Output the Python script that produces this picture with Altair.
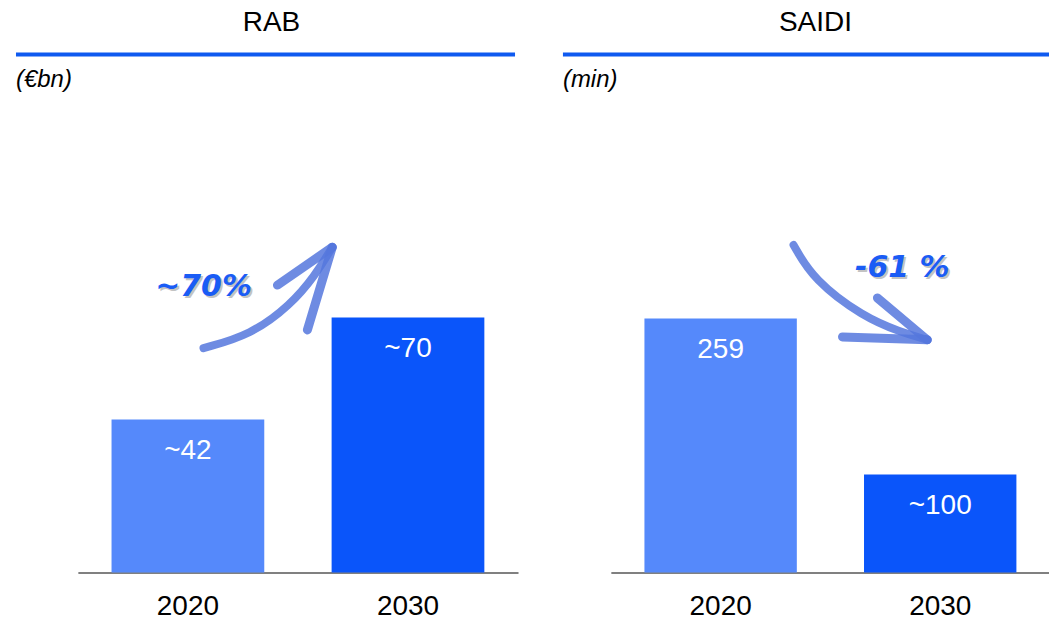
import altair as alt
import pandas as pd

# ---- data ----
years = ["2020", "2030"]
rab_values = [42, 70]
rab_labels = ["~42", "~70"]
saidi_values = [259, 100]
saidi_labels = ["259", "~100"]
bar_colors = ["#5589FB", "#0A55FA"]

# annotation arrows (x in category-slot units 0..2, y in value units)
rab_arrow_u = [0.571, 0.785, 0.966, 1.079, 1.156]
rab_arrow_v = [61.6, 65.2, 73.4, 81.6, 89.3]
rab_head_u = [0.907, 1.043]
rab_head_v = [78.9, 66.6]
rab_pct = "~70%"
rab_pct_pos = (0.571, 78.4)

saidi_arrow_u = [0.832, 0.923, 1.150, 1.318, 1.441]
saidi_arrow_v = [334.0, 298.4, 260.7, 245.4, 237.3]
saidi_head_u = [1.214, 1.055]
saidi_head_v = [280.0, 240.3]
saidi_pct = "-61 %"
saidi_pct_pos = (1.327, 310.6)

FONT = "Liberation Sans"
LINE_BLUE = "#0F5AF0"
ARROW_BLUE = "#5577DD"
PCT_BLUE = "#1A5CF5"
H = 473


def panel(title, unit, values, labels, ymax, width, title_x, line_x1, line_x2,
          arr_u, arr_v, head_u, head_v, pct, pct_pos):
    bars_df = pd.DataFrame({"cat": years, "value": values, "label": labels, "color": bar_colors})
    yscale = alt.Scale(domain=[0, ymax], nice=False, zero=True)
    uscale = alt.Scale(domain=[0, 2], nice=False, zero=False)
    xscale = alt.Scale(paddingInner=0.306, paddingOuter=0.153)

    bars = alt.Chart(bars_df).mark_bar().encode(
        x=alt.X("cat:N", sort=years, scale=xscale,
                axis=alt.Axis(title=None, labelAngle=0, labelFontSize=28, labelFont=FONT,
                              labelColor="#000000", ticks=False, tickSize=0,
                              domainColor="#808080", domainWidth=2, labelPadding=20)),
        y=alt.Y("value:Q", scale=yscale, axis=None),
        color=alt.Color("color:N", scale=None),
    )
    vtext = alt.Chart(bars_df).mark_text(dy=32, baseline="middle", color="white",
                                         fontSize=28, font=FONT).encode(
        x=alt.X("cat:N", sort=years, scale=xscale, axis=None),
        y=alt.Y("value:Q", scale=yscale, axis=None),
        text="label:N")

    one = pd.DataFrame({"a": [0]})
    tline = alt.Chart(one).mark_rule(color=LINE_BLUE, strokeWidth=4).encode(
        x=alt.value(line_x1), x2=alt.value(line_x2), y=alt.value(-46))
    ttext = alt.Chart(one).mark_text(fontSize=28, font=FONT, color="black",
                                     baseline="middle").encode(
        x=alt.value(title_x), y=alt.value(-78), text=alt.value(title))
    utext = alt.Chart(one).mark_text(fontSize=24, font=FONT, fontStyle="italic",
                                     color="black", align="left",
                                     baseline="middle").encode(
        x=alt.value(line_x1), y=alt.value(-20), text=alt.value(unit))

    arrow_df = pd.DataFrame({"u": arr_u, "v": arr_v, "i": list(range(len(arr_u)))})
    arrow = alt.Chart(arrow_df).mark_line(interpolate="basis", strokeWidth=8,
                                          color=ARROW_BLUE, opacity=0.85,
                                          strokeCap="round").encode(
        x=alt.X("u:Q", scale=uscale, axis=None),
        y=alt.Y("v:Q", scale=yscale, axis=None),
        order="i:O")
    head_df = pd.DataFrame({"u": [arr_u[-1]] * 2, "v": [arr_v[-1]] * 2,
                            "u2": head_u, "v2": head_v})
    head = alt.Chart(head_df).mark_rule(strokeWidth=9, color=ARROW_BLUE, opacity=0.85,
                                        strokeCap="round").encode(
        x=alt.X("u:Q", scale=uscale, axis=None), x2="u2:Q",
        y=alt.Y("v:Q", scale=yscale, axis=None), y2="v2:Q")

    pct_df = pd.DataFrame({"u": [pct_pos[0]], "v": [pct_pos[1]], "t": [pct]})
    pct_shadow = alt.Chart(pct_df).mark_text(fontSize=30, fontWeight="bold",
                                             fontStyle="italic", font="DejaVu Sans",
                                             color="#888888", opacity=0.5,
                                             dx=2, dy=2).encode(
        x=alt.X("u:Q", scale=uscale, axis=None),
        y=alt.Y("v:Q", scale=yscale, axis=None), text="t:N")
    pct_text = alt.Chart(pct_df).mark_text(fontSize=30, fontWeight="bold",
                                           fontStyle="italic", font="DejaVu Sans",
                                           color=PCT_BLUE).encode(
        x=alt.X("u:Q", scale=uscale, axis=None),
        y=alt.Y("v:Q", scale=yscale, axis=None), text="t:N")

    return alt.layer(bars, vtext, tline, ttext, utext, arrow, head, pct_shadow,
                     pct_text).resolve_scale(x="independent").properties(
        width=width, height=H)


left = panel("RAB", "(€bn)", rab_values, rab_labels, 129.6, 441, 194, -62, 438,
             rab_arrow_u, rab_arrow_v, rab_head_u, rab_head_v, rab_pct, rab_pct_pos)
right = panel("SAIDI", "(min)", saidi_values, saidi_labels, 481.5, 440, 205, -48, 443,
              saidi_arrow_u, saidi_arrow_v, saidi_head_u, saidi_head_v, saidi_pct,
              saidi_pct_pos)

chart = alt.hconcat(left, right, spacing=43).properties(
    padding={"left": 6, "top": 0, "right": -6, "bottom": -4}
).configure_view(stroke=None).configure_concat(spacing=43)

chart.save("out.html", embed_options={"renderer": "svg", "actions": False})
